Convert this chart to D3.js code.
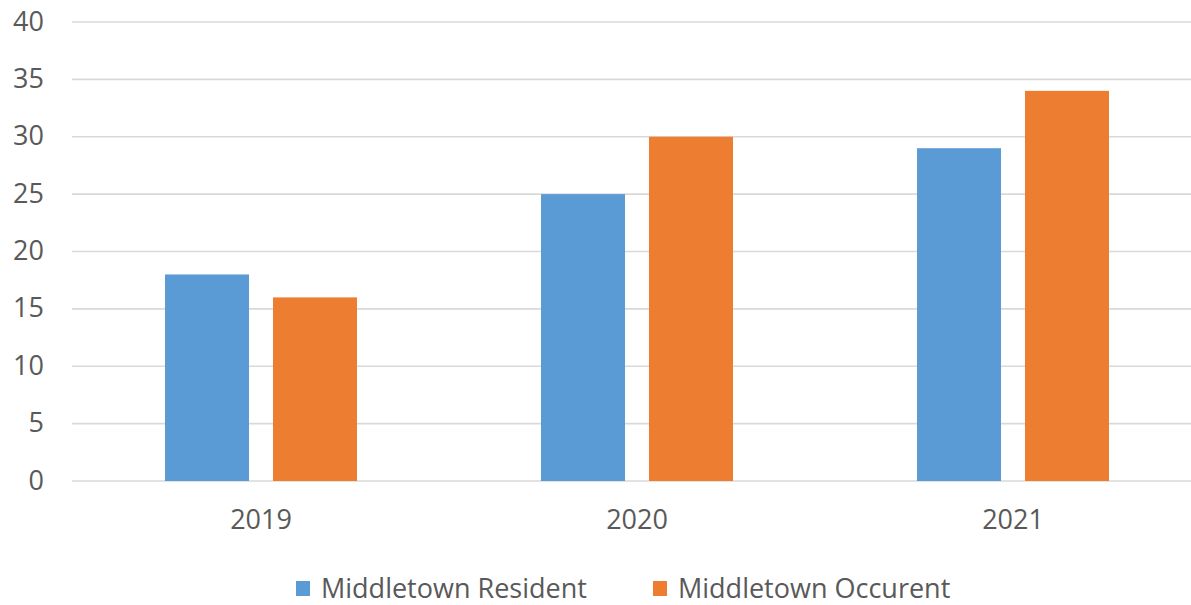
<!DOCTYPE html>
<html><head><meta charset="utf-8">
<script src="https://cdn.jsdelivr.net/npm/d3@7"></script>
<style>body{margin:0;background:#fff}svg{display:block}text{font-family:"Open Sans",sans-serif;fill:#595959}</style>
</head><body><svg id="c" width="1191" height="605"></svg>
<script>
const categories = ["2019", "2020", "2021"];
const seriesNames = ["Middletown Resident", "Middletown Occurent"];
const resident = [18, 25, 29];
const occurent = [16, 30, 34];
const yTicks = [0, 5, 10, 15, 20, 25, 30, 35, 40];
const colors = ["#5b9bd5", "#ed7d31"];

const svg = d3.select("#c");
const x = d3.scaleBand().domain(categories).range([73, 1201]).paddingInner(0).paddingOuter(0);
const x1 = d3.scaleBand().domain([0, 1]).range([0, x.bandwidth()]).paddingInner(0.222).paddingOuter(0.852);
const y = d3.scaleLinear().domain([0, 40]).range([481, 22]);

const grid = svg.append("g");
grid.selectAll("line").data(yTicks).join("line")
  .attr("x1", 72).attr("x2", 1191)
  .attr("y1", d => y(d)).attr("y2", d => y(d))
  .attr("stroke", "#d9d9d9").attr("stroke-width", 1.6);

const yAxis = d3.axisLeft(y).tickValues(yTicks).tickSize(0).tickPadding(0);
const ya = svg.append("g").attr("transform", "translate(44,0)").call(yAxis);
ya.select(".domain").remove();
ya.selectAll("text").style("font-size", "27px").style("font-family", "'Open Sans',sans-serif").attr("fill", "#595959").attr("dy", "0.3em");

const series = [resident, occurent];
series.forEach((vals, si) => {
  svg.append("g").selectAll("rect").data(vals).join("rect")
    .attr("x", (d, i) => x(categories[i]) + x1(si))
    .attr("width", x1.bandwidth())
    .attr("y", d => y(d))
    .attr("height", d => y(0) - y(d))
    .attr("fill", colors[si]);
});

const xAxis = d3.axisBottom(x).tickSize(0).tickPadding(0);
const xa = svg.append("g").attr("transform", "translate(0,520)").call(xAxis);
xa.select(".domain").remove();
xa.selectAll("text").style("font-size", "27px").style("font-family", "'Open Sans',sans-serif").attr("fill", "#595959").attr("dy", "0.35em");

const legendX = [296, 653];
const lg = svg.append("g");
seriesNames.forEach((n, i) => {
  lg.append("rect").attr("x", legendX[i]).attr("y", 581).attr("width", 14).attr("height", 15).attr("fill", colors[i]);
  lg.append("text").attr("x", legendX[i] + 25).attr("y", 589).attr("dy", "0.35em")
    .style("font-size", "27px").text(n);
});
</script></body></html>
